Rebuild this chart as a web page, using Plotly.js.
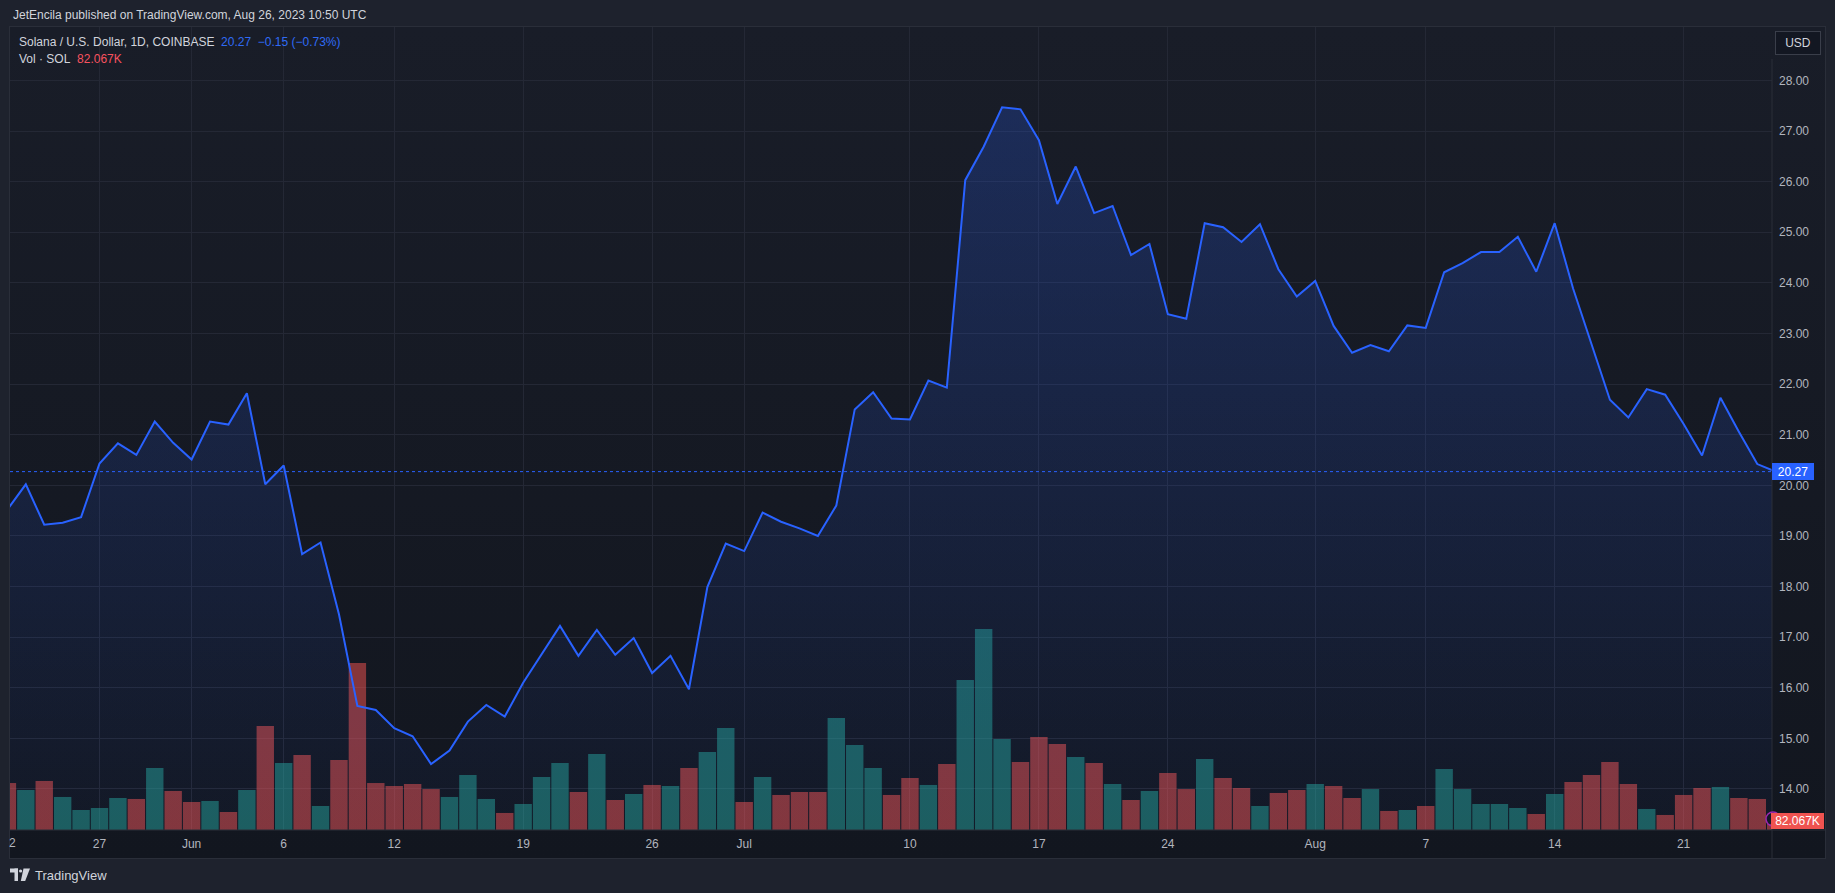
<!DOCTYPE html>
<html><head><meta charset="utf-8">
<script src="https://cdn.plot.ly/plotly-3.0.1.min.js"></script>
<style>
html,body{margin:0;padding:0;background:#1e222d;width:1835px;height:893px;overflow:hidden}
#panel{position:absolute;left:9px;top:26px;width:1815px;height:831px;background:linear-gradient(#191d28,#12161f);border:1px solid #2a2e39;}
#chart{position:absolute;left:0;top:0;width:1835px;height:893px}
</style></head><body>
<div id="panel"></div><div id="chart"></div>
<script>
// ---- data ----
const dates = [
'2023-05-22','2023-05-23','2023-05-24','2023-05-25','2023-05-26','2023-05-27','2023-05-28','2023-05-29','2023-05-30','2023-05-31',
'2023-06-01','2023-06-02','2023-06-03','2023-06-04','2023-06-05','2023-06-06','2023-06-07','2023-06-08','2023-06-09','2023-06-10',
'2023-06-11','2023-06-12','2023-06-13','2023-06-14','2023-06-15','2023-06-16','2023-06-17','2023-06-18','2023-06-19','2023-06-20',
'2023-06-21','2023-06-22','2023-06-23','2023-06-24','2023-06-25','2023-06-26','2023-06-27','2023-06-28','2023-06-29','2023-06-30',
'2023-07-01','2023-07-02','2023-07-03','2023-07-04','2023-07-05','2023-07-06','2023-07-07','2023-07-08','2023-07-09','2023-07-10',
'2023-07-11','2023-07-12','2023-07-13','2023-07-14','2023-07-15','2023-07-16','2023-07-17','2023-07-18','2023-07-19','2023-07-20',
'2023-07-21','2023-07-22','2023-07-23','2023-07-24','2023-07-25','2023-07-26','2023-07-27','2023-07-28','2023-07-29','2023-07-30',
'2023-07-31','2023-08-01','2023-08-02','2023-08-03','2023-08-04','2023-08-05','2023-08-06','2023-08-07','2023-08-08','2023-08-09',
'2023-08-10','2023-08-11','2023-08-12','2023-08-13','2023-08-14','2023-08-15','2023-08-16','2023-08-17','2023-08-18','2023-08-19',
'2023-08-20','2023-08-21','2023-08-22','2023-08-23','2023-08-24','2023-08-25','2023-08-26'];

const closes = [
19.52,20.02,19.22,19.26,19.37,20.43,20.83,20.60,21.26,20.84,
20.51,21.26,21.20,21.82,20.02,20.39,18.64,18.87,17.45,15.64,
15.56,15.20,15.04,14.49,14.76,15.33,15.66,15.43,16.10,16.67,
17.22,16.63,17.14,16.65,16.98,16.29,16.63,15.97,17.99,18.85,
18.70,19.46,19.28,19.15,19.00,19.60,21.50,21.84,21.32,21.30,
22.07,21.93,26.03,26.69,27.47,27.43,26.82,25.56,26.30,25.38,
25.52,24.55,24.77,23.38,23.29,25.18,25.10,24.81,25.16,24.27,
23.73,24.04,23.15,22.62,22.77,22.65,23.16,23.11,24.21,24.39,
24.61,24.61,24.91,24.22,25.18,23.89,22.81,21.69,21.34,21.90,
21.79,21.21,20.59,21.73,21.06,20.42,20.27];

// volume, thousands of SOL
const volumes = [
634,540,662,446,270,297,432,419,837,527,
378,392,243,540,1404,905,1013,324,945,2255,
634,594,621,553,446,743,419,230,351,716,
905,513,1026,405,486,608,594,837,1053,1377,
378,716,473,513,513,1512,1148,837,473,702,
608,891,2025,2714,1229,918,1256,1161,986,905,
621,405,527,770,553,959,702,567,324,500,
540,621,594,432,553,257,270,324,824,553,
351,351,297,216,486,648,743,918,621,284,
203,473,567,581,432,419,82.067];

// candle direction of each day: u = up (teal), d = down (red)
const dirs = [
'd','u','d','u','u','u','u','d','u','d',
'd','u','d','u','d','u','d','u','d','d',
'd','d','d','d','u','u','u','d','u','u',
'u','d','u','d','u','d','u','d','u','u',
'd','u','d','d','d','u','u','u','d','d',
'u','d','u','u','u','d','d','d','u','d',
'u','d','u','d','d','u','d','d','u','d',
'd','u','d','d','u','d','u','d','u','u',
'u','u','u','d','u','d','d','d','d','u',
'd','d','d','u','d','d','d'];

const dateTicks = ['2023-05-27','2023-06-01','2023-06-06','2023-06-12','2023-06-19','2023-06-26','2023-07-01',
                   '2023-07-10','2023-07-17','2023-07-24','2023-08-01','2023-08-07','2023-08-14','2023-08-21'];
const dateTickText = ['27','Jun','6','12','19','26','Jul','10','17','24','Aug','7','14','21'];
const priceTicks = [14,15,16,17,18,19,20,21,22,23,24,25,26,27,28];

// ---- layout helpers ----
const F = 'Liberation Sans, Arial, sans-serif';
const PL=10, PT=27, PW=1762, PH=803;
const px = x => (x-PL)/PW;
const py = y => (PT+PH-y)/PH;

const lastClose = closes[closes.length-1];
const prevClose = closes[closes.length-2];
const chg = lastClose - prevClose;
const chgPct = chg/prevClose*100;
const fmtSigned = v => (v<0?'\u2212':'+') + Math.abs(v).toFixed(2);
const lastVol = volumes[volumes.length-1];

const volColors = dirs.map(d => d==='u' ? 'rgba(38,166,154,0.5)' : 'rgba(239,83,80,0.52)');

const traces = [
  {type:'bar', x:dates, y:volumes, xaxis:'x', yaxis:'y',
   marker:{color:volColors, line:{width:0}}, hoverinfo:'skip'},
  {type:'scatter', mode:'lines', x:dates, y:closes, xaxis:'x', yaxis:'y2',
   line:{color:'#2962ff', width:2},
   fill:'tozeroy',
   fillgradient:{type:'vertical', start:13.19, stop:27.5,
     colorscale:[[0,'rgba(41,98,255,0.03)'],[1,'rgba(41,98,255,0.23)']]},
   hoverinfo:'skip'}
];

const gridC = '#242835';
const tickC = '#b2b5be';

const shapes = [
  // bottom axis line
  {type:'line', xref:'paper', yref:'paper', x0:px(10), x1:px(1825), y0:0, y1:0, line:{color:'#2a2e39', width:1}},
  // price scale line
  {type:'line', xref:'paper', yref:'paper', x0:1, x1:1, y0:py(858), y1:py(59), line:{color:'#2a2e39', width:1}},
  // last price dotted line
  {type:'line', xref:'paper', yref:'y2', x0:0, x1:1, y0:lastClose, y1:lastClose, line:{color:'#2962ff', width:1, dash:'dot'}, layer:'above'},
  // purple event marker near volume label
  {type:'circle', xref:'paper', yref:'paper', x0:px(1766), x1:px(1780), y0:py(826), y1:py(812), line:{color:'#9c27b0', width:1.5}, fillcolor:'rgba(0,0,0,0)'},
  // TradingView logo
  {type:'rect', xref:'paper', yref:'paper', x0:px(10), x1:px(18), y0:py(872.5), y1:py(868.5), fillcolor:'#d1d4dc', line:{width:0}},
  {type:'rect', xref:'paper', yref:'paper', x0:px(14.5), x1:px(18), y0:py(881), y1:py(868.5), fillcolor:'#d1d4dc', line:{width:0}},
  {type:'circle', xref:'paper', yref:'paper', x0:px(19), x1:px(22.2), y0:py(872.6), y1:py(869.4), fillcolor:'#d1d4dc', line:{width:0}},
  {type:'path', xref:'paper', yref:'paper',
   path:`M${px(23.5)},${py(868.5)} L${px(30)},${py(868.5)} L${px(25.2)},${py(881)} L${px(20.8)},${py(881)} Z`,
   fillcolor:'#d1d4dc', line:{width:0}}
];

const annotations = [
  {xref:'paper', yref:'paper', x:px(10.5), y:py(15), xanchor:'left', yanchor:'middle', showarrow:false,
   text:'JetEncila published on TradingView.com, Aug 26, 2023 10:50 UTC', font:{family:F, size:12, color:'#d1d4dc'}},
  {xref:'paper', yref:'paper', x:px(17), y:py(42), xanchor:'left', yanchor:'middle', showarrow:false,
   text:'Solana / U.S. Dollar, 1D, COINBASE\u00a0\u00a0<span style="color:#2f6bf5">' + lastClose.toFixed(2) +
        '\u00a0\u00a0' + fmtSigned(chg) + ' (' + fmtSigned(chgPct) + '%)</span>',
   font:{family:F, size:12, color:'#d1d4dc'}},
  {xref:'paper', yref:'paper', x:px(17), y:py(59), xanchor:'left', yanchor:'middle', showarrow:false,
   text:'Vol \u00b7 SOL\u00a0\u00a0<span style="color:#f7525f">' + lastVol.toFixed(3) + 'K</span>',
   font:{family:F, size:12, color:'#d1d4dc'}},
  {xref:'paper', yref:'paper', x:px(1775), y:py(43), xanchor:'left', yanchor:'middle', showarrow:false,
   text:'USD', width:44, height:22, bgcolor:'#131722', bordercolor:'#3a3e4a', borderwidth:1, borderpad:0,
   font:{family:F, size:12, color:'#d1d4dc'}},
  {xref:'paper', yref:'y2', x:1, y:lastClose, xanchor:'left', yanchor:'middle', showarrow:false,
   text:lastClose.toFixed(2), width:42, height:17, bgcolor:'#2962ff', borderwidth:0, borderpad:0,
   font:{family:F, size:12, color:'#ffffff'}},
  {xref:'paper', yref:'paper', x:px(1771), y:py(821), xanchor:'left', yanchor:'middle', showarrow:false,
   text:lastVol.toFixed(3)+'K', width:53, height:16, bgcolor:'#ef5350', borderwidth:0, borderpad:0,
   font:{family:F, size:12, color:'#ffffff'}},
  {xref:'paper', yref:'paper', x:px(12), y:py(843), xanchor:'center', yanchor:'middle', showarrow:false,
   text:'2', font:{family:F, size:12, color:tickC}},
  {xref:'paper', yref:'paper', x:px(33), y:py(875), xanchor:'left', yanchor:'middle', showarrow:false,
   text:'TradingView', font:{family:F, size:13, color:'#d1d4dc'}}
];

const layout = {
  width:1835, height:893, autosize:false,
  margin:{l:PL, r:1835-PL-PW, t:PT, b:893-PT-PH, pad:0},
  paper_bgcolor:'rgba(0,0,0,0)', plot_bgcolor:'rgba(0,0,0,0)',
  showlegend:false, bargap:0.055,
  font:{family:F, size:12, color:tickC},
  xaxis:{type:'date', range:['2023-05-22 03:23','2023-08-25 19:10'],
         tickmode:'array', tickvals:dateTicks, ticktext:dateTickText,
         showgrid:true, gridcolor:gridC, gridwidth:1, zeroline:false, showline:false,
         ticks:'', ticklabelstandoff:5, tickfont:{family:F, size:12, color:tickC}, fixedrange:true},
  yaxis:{range:[0, 10840], visible:false, showgrid:false, zeroline:false, fixedrange:true},
  yaxis2:{overlaying:'y', side:'right', range:[13.188, 29.057],
          tickmode:'array', tickvals:priceTicks, tickformat:'.2f',
          showgrid:true, gridcolor:gridC, gridwidth:1, zeroline:false, showline:false,
          ticks:'', ticklabelstandoff:6, tickfont:{family:F, size:12, color:tickC}, fixedrange:true},
  shapes:shapes,
  annotations:annotations
};

Plotly.newPlot('chart', traces, layout, {staticPlot:true, displayModeBar:false});
</script></body></html>
